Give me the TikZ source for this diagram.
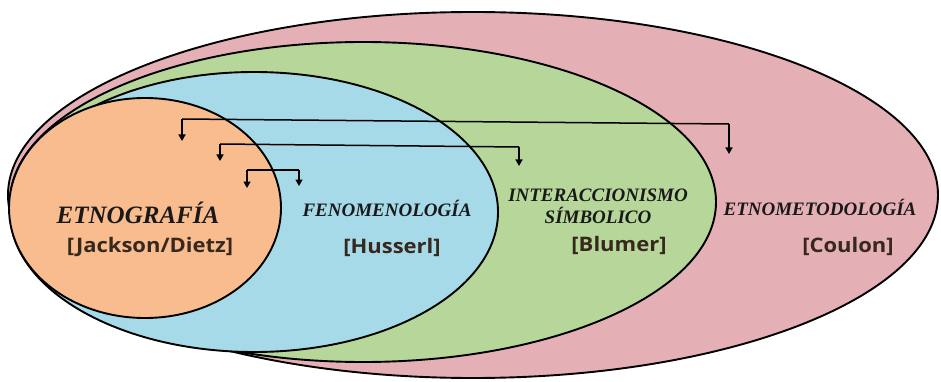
\documentclass[tikz,border=0pt]{standalone}
\usepackage{fontspec}
\setmainfont{Liberation Serif}
\newfontfamily\labfont{Open Sans}
\usetikzlibrary{arrows.meta}
\definecolor{cpink}{RGB}{229,176,181}
\definecolor{cgreen}{RGB}{182,214,154}
\definecolor{cblue}{RGB}{166,218,233}
\definecolor{corange}{RGB}{248,188,142}
\definecolor{ctext}{RGB}{25,25,25}
\definecolor{cauth}{RGB}{55,40,30}
\tikzset{
  ell/.style={draw=black, line width=1.9pt},
  title/.style={text=ctext, inner sep=0pt, align=center},
  author/.style={text=cauth, inner sep=0pt, font=\fontsize{20}{24}\selectfont\labfont\bfseries, xscale=1.1, transform shape},
  link/.style={line width=1.5pt, -{Triangle[width=7pt,length=6.5pt]}},
  bar/.style={line width=1.5pt},
}
\begin{document}
\begin{tikzpicture}[x=1pt,y=-1pt]
\useasboundingbox (0,0) rectangle (941,382);
\fill[white] (0,0) rectangle (941,382);
\draw[ell, fill=cpink] (473,195) ellipse [x radius=465, y radius=183];
\draw[ell, fill=cgreen] (363,202) ellipse [x radius=353, y radius=160];
\draw[ell, fill=cblue] (254,212) ellipse [x radius=244, y radius=140];
\draw[ell, fill=corange] (145,208) ellipse [x radius=136, y radius=110];

% texts
\node[title, font=\fontsize{25}{30}\selectfont\bfseries\itshape] (etno) at (138,213) {ETNOGRAFÍA};
\node[author] (jd) at (150,247) {[Jackson/Dietz]};
\node[title, font=\fontsize{19}{22}\selectfont\bfseries\itshape] (feno) at (387,208) {FENOMENOLOGÍA};
\node[author] (hus) at (392,247) {[Husserl]};
\node[title, font=\fontsize{19}{22}\selectfont\bfseries\itshape] (inter) at (598,206) {INTERACCIONISMO\\SÍMBOLICO};
\node[author] (blu) at (619,245) {[Blumer]};
\node[title, font=\fontsize{19}{22}\selectfont\bfseries\itshape] (etnom) at (820,207) {ETNOMETODOLOGÍA};
\node[author] (cou) at (848,246) {[Coulon]};

% arrow anchors
\coordinate (a1l) at (182,119);
\coordinate (a1r) at (729,124);
\coordinate (a1le) at (182,141);
\coordinate (a1re) at (729,154);
\coordinate (a2l) at (220,144);
\coordinate (a2r) at (519,147);
\coordinate (a2le) at (220,161);
\coordinate (a2re) at (519,166);
\coordinate (a3l) at (247,170);
\coordinate (a3r) at (299,170);
\coordinate (a3le) at (247,188);
\coordinate (a3re) at (299,186);

\draw[bar] (a1l) -- (a1r);
\draw[link] (a1l) -- (a1le);
\draw[link] (a1r) -- (a1re);
\draw[bar] (a2l) -- (a2r);
\draw[link] (a2l) -- (a2le);
\draw[link] (a2r) -- (a2re);
\draw[bar] (a3l) -- (a3r);
\draw[link] (a3l) -- (a3le);
\draw[link] (a3r) -- (a3re);
\end{tikzpicture}
\end{document}
